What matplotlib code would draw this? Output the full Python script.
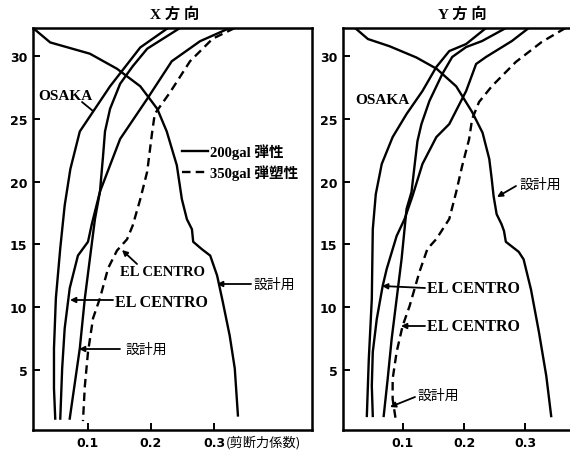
import matplotlib
matplotlib.use("Agg")
import matplotlib.pyplot as plt
from matplotlib.lines import Line2D

# ---------------- data ----------------
# X direction (left panel)
x_design_x = [0.0127, 0.040, 0.103, 0.146, 0.183, 0.210, 0.225, 0.241, 0.249, 0.257, 0.265, 0.267, 0.281, 0.294, 0.305, 0.314, 0.325, 0.333, 0.338]
x_design_y = [32.25, 31.1, 30.2, 29.0, 27.6, 25.8, 24.0, 21.3, 18.6, 17.0, 16.2, 15.2, 14.6, 14.1, 12.5, 10.4, 7.7, 5.1, 1.35]
x_osaka_x = [0.227, 0.183, 0.135, 0.087, 0.072, 0.063, 0.056, 0.049, 0.046, 0.046, 0.048]
x_osaka_y = [32.25, 30.7, 27.6, 24.0, 21.0, 18.1, 14.7, 10.7, 6.7, 3.5, 1.1]
x_elc_x = [0.325, 0.278, 0.233, 0.194, 0.151, 0.119, 0.106, 0.100, 0.084, 0.071, 0.063, 0.059, 0.056]
x_elc_y = [32.25, 31.2, 29.6, 26.6, 23.4, 19.2, 16.6, 15.2, 14.1, 11.5, 8.3, 5.1, 1.1]
x_wave_x = [0.246, 0.194, 0.171, 0.151, 0.135, 0.127, 0.124, 0.119, 0.111, 0.095, 0.087, 0.071]
x_wave_y = [32.25, 30.6, 29.2, 27.8, 25.8, 24.0, 22.1, 19.2, 17.0, 10.7, 6.7, 1.1]
x_elc350_x = [0.333, 0.298, 0.262, 0.230, 0.206, 0.202, 0.194, 0.183, 0.171, 0.162, 0.146, 0.132, 0.119, 0.108, 0.100, 0.095, 0.092]
x_elc350_y = [32.25, 31.4, 29.6, 27.1, 25.4, 24.0, 20.8, 18.6, 16.5, 15.4, 14.5, 13.1, 10.7, 9.1, 6.4, 3.7, 0.9]

# Y direction (right panel)
y_design_x = [0.022, 0.043, 0.078, 0.122, 0.155, 0.187, 0.213, 0.230, 0.241, 0.245, 0.248, 0.253, 0.261, 0.265, 0.268, 0.289, 0.297, 0.309, 0.322, 0.334, 0.342]
y_design_y = [32.25, 31.37, 30.8, 29.9, 29.0, 27.6, 25.55, 23.9, 21.8, 20.2, 18.85, 17.4, 16.6, 16.06, 15.2, 14.4, 13.8, 11.4, 8.0, 4.5, 1.3]
y_osaka_x = [0.2357, 0.2032, 0.1757, 0.1546, 0.1319, 0.106, 0.0833, 0.0655, 0.0558, 0.0509, 0.0493, 0.0444, 0.0412]
y_osaka_y = [32.25, 30.97, 30.41, 29.14, 27.22, 25.39, 23.55, 21.4, 19.0, 16.2, 10.64, 5.85, 1.31]
y_elc_x = [0.3054, 0.2778, 0.2357, 0.2195, 0.2032, 0.1757, 0.1546, 0.1319, 0.1157, 0.1028, 0.0898, 0.0736, 0.067, 0.0574, 0.0509, 0.0493, 0.0509]
y_elc_y = [32.25, 31.21, 29.94, 29.38, 27.22, 24.59, 23.55, 21.4, 18.85, 17.02, 15.66, 13.03, 11.67, 9.04, 6.41, 3.7, 1.31]
y_wave_x = [0.2681, 0.2292, 0.2032, 0.1805, 0.1643, 0.1433, 0.1303, 0.1238, 0.119, 0.1141, 0.106, 0.0979, 0.0898, 0.0817, 0.0752, 0.0687]
y_wave_y = [32.25, 31.21, 30.73, 29.94, 28.58, 26.43, 24.59, 23.23, 21.24, 19.17, 17.82, 13.83, 10.64, 7.45, 4.26, 1.31]
y_elc350_x = [0.3653, 0.3264, 0.2843, 0.2454, 0.2243, 0.213, 0.2081, 0.1967, 0.187, 0.1757, 0.1546, 0.14, 0.127, 0.111, 0.0995, 0.0898, 0.0833, 0.0833, 0.0882]
y_elc350_y = [32.25, 31.13, 29.54, 27.62, 26.35, 24.99, 23.39, 21.24, 19.17, 17.02, 15.42, 14.63, 12.79, 10.08, 8.48, 6.41, 4.26, 2.66, 1.06]

x_ticks = [0.1, 0.2, 0.3]
x_ticklabels = ["0.1", "0.2", "0.3"]
y_ticks = [5, 10, 15, 20, 25, 30]

titles = ["X 方 向", "Y 方 向"]
legend_labels = ["200gal 弾性", "350gal 弾塑性"]
xlabel_text = "(剪断力係数)"

# ---------------- layout ----------------
W, H = 570, 452
fig = plt.figure(figsize=(W / 100, H / 100), dpi=100)

def ff(x, y):
    return (x / W, 1 - y / H)

LAT = ["Liberation Serif", "Noto Sans CJK JP"]
JP = ["Noto Sans CJK JP", "DejaVu Sans"]

axL = fig.add_axes([33 / W, (H - 431) / H, (312 - 33) / W, (431 - 29) / H])
axR = fig.add_axes([343 / W, (H - 431) / H, (W - 343) / W, (431 - 29) / H])

LW = 1.7
DASH = (0, (3.6, 2.2))

for ax in (axL, axR):
    ax.set_ylim(0.19, 32.25)
    ax.set_yticks(y_ticks)
    ax.set_xticks(x_ticks)
    ax.set_xticklabels(x_ticklabels)
    ax.tick_params(direction="in", length=5, width=1.4, labelsize=9, pad=4)
    for lab in ax.get_xticklabels() + ax.get_yticklabels():
        lab.set_fontweight("bold")
        lab.set_family("DejaVu Sans")
    for s in ax.spines.values():
        s.set_linewidth(1.8)

axL.set_xlim(0.0127, 0.4556)
axR.set_xlim(0.0023, 0.3727)
axR.spines["right"].set_visible(False)

# left panel curves
axL.plot(x_design_x, x_design_y, color="k", lw=LW, clip_on=True)
axL.plot(x_osaka_x, x_osaka_y, color="k", lw=LW)
axL.plot(x_elc_x, x_elc_y, color="k", lw=LW)
axL.plot(x_wave_x, x_wave_y, color="k", lw=LW)
axL.plot(x_elc350_x, x_elc350_y, color="k", lw=LW, ls=DASH)

# right panel curves
axR.plot(y_design_x, y_design_y, color="k", lw=LW)
axR.plot(y_osaka_x, y_osaka_y, color="k", lw=LW)
axR.plot(y_elc_x, y_elc_y, color="k", lw=LW)
axR.plot(y_wave_x, y_wave_y, color="k", lw=LW)
axR.plot(y_elc350_x, y_elc350_y, color="k", lw=LW, ls=DASH)

# titles
fig.text(*ff(175, 15), titles[0], ha="center", va="center", fontsize=11, fontweight="bold", family=LAT)
fig.text(*ff(462, 15), titles[1], ha="center", va="center", fontsize=11, fontweight="bold", family=LAT)

# x label continuation
fig.text(*ff(226, 443), xlabel_text, ha="left", va="center", fontsize=9.5, family=JP)

# legend (manual)
fig.add_artist(Line2D([182 / W, 208 / W], [1 - 152 / H] * 2, color="k", lw=LW))
fig.add_artist(Line2D([182 / W, 208 / W], [1 - 173 / H] * 2, color="k", lw=LW, ls=DASH))
fig.text(*ff(210, 152), legend_labels[0], ha="left", va="center", fontsize=10.5, fontweight="bold", family=LAT)
fig.text(*ff(210, 173), legend_labels[1], ha="left", va="center", fontsize=10.5, fontweight="bold", family=LAT)

def label(x, y, s, size=11, fam=LAT, weight="bold"):
    fig.text(*ff(x, y), s, ha="left", va="center", fontsize=size, fontweight=weight, family=fam)

def arrow(tail, tip, head=True):
    style = "-|>" if head else "-"
    fig.add_artist(matplotlib.patches.FancyArrowPatch(
        ff(*tail), ff(*tip), transform=fig.transFigure,
        arrowstyle=style, mutation_scale=8, lw=1.3, color="k",
        shrinkA=0, shrinkB=0))

# left panel labels
label(38, 96, "OSAKA", 11)
arrow((82, 103), (93, 112), head=False)
label(120, 273, "EL CENTRO", 10.5)
arrow((137, 265), (122, 251))
label(115, 303, "EL CENTRO", 11.5)
arrow((113, 301), (70, 301))
label(125, 350, "設計用", 10, JP, "normal")
arrow((120, 350), (79, 350))
label(253, 285, "設計用", 10, JP, "normal")
arrow((251, 285), (217, 285))

# right panel labels
label(355, 100, "OSAKA", 11)
label(519, 185, "設計用", 10, JP, "normal")
arrow((516, 187), (497, 198))
label(427, 289, "EL CENTRO", 11.5)
arrow((425, 289), (382, 287))
label(427, 327, "EL CENTRO", 11.5)
arrow((425, 327), (401, 327))
label(418, 396, "設計用", 10, JP, "normal")
arrow((415, 398), (390, 408))

fig.savefig("out.png", dpi=100)
